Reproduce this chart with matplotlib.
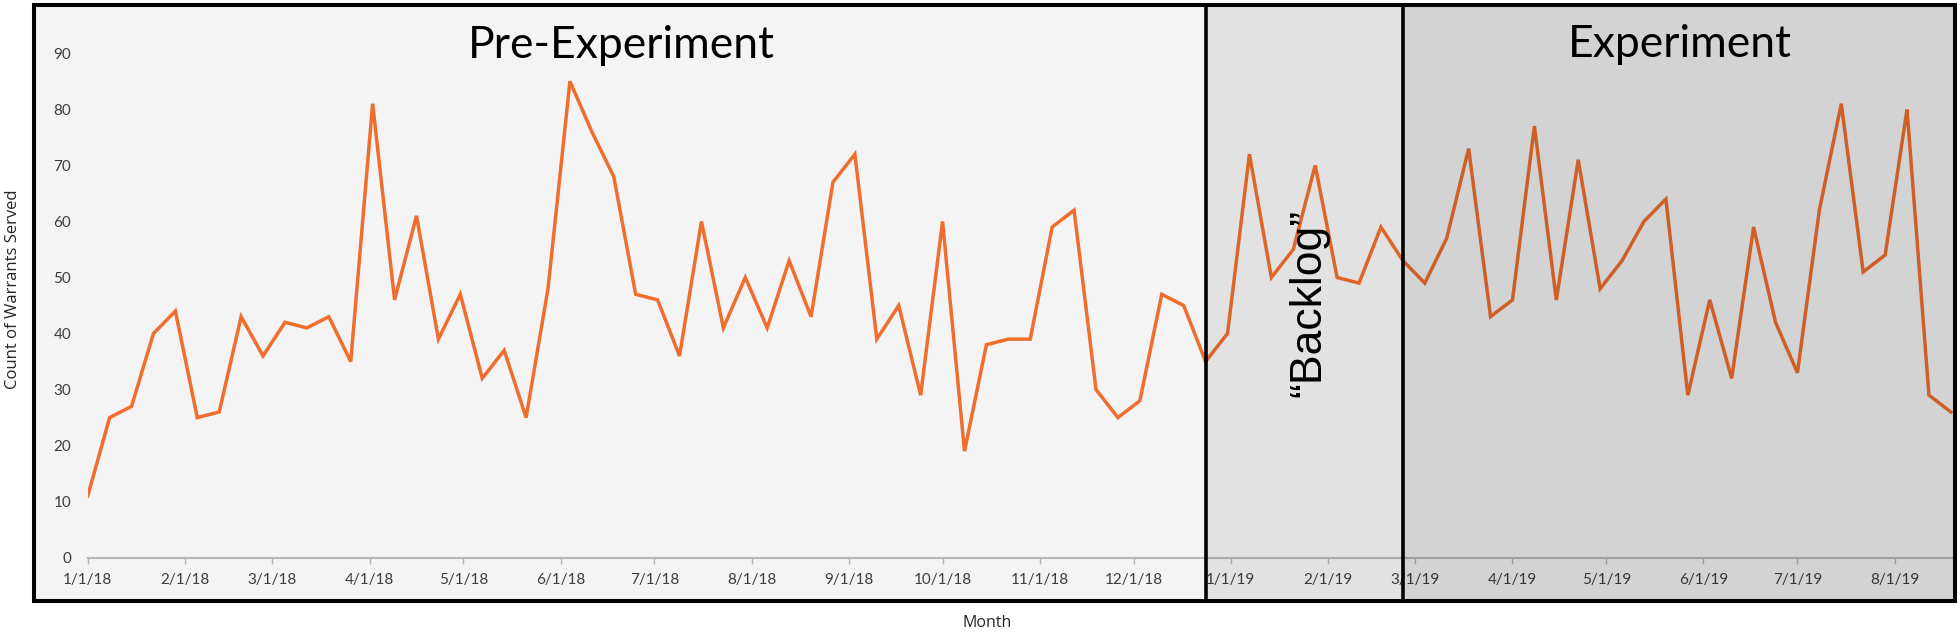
import pandas as pd
import numpy as np
import matplotlib
matplotlib.use('Agg')
import matplotlib.pyplot as plt
import matplotlib.dates as mdates
import matplotlib.transforms as mtransforms
from matplotlib.patches import Rectangle
from matplotlib.lines import Line2D

# weekly counts, first week = 1/1/18
start_date = '2018-01-01'
warrants = [11, 25, 27, 40, 44, 25, 26, 43, 36, 42, 41, 43, 35, 81, 46,
            61, 39, 47, 32, 37, 25, 48, 85, 76, 68, 47, 46, 36, 60,
            41, 50, 41, 53, 43, 67, 72, 39, 45, 29, 60, 19, 38, 39,
            39, 59, 62, 30, 25, 28, 47, 45, 35, 40, 72, 50, 55, 70,
            50, 49, 59, 53, 49, 57, 73, 43, 46, 77, 46, 71, 48, 53,
            60, 64, 29, 46, 32, 59, 42, 33, 62, 81, 51, 54, 80, 29, 26]

# phases
phase_names = ['Pre-Experiment', '\u201cBacklog\u201d', 'Experiment']
phase_starts = ['2018-01-01', '2018-12-24', '2019-02-25']
x_end = '2019-08-20'

y_ticks = [0, 10, 20, 30, 40, 50, 60, 70, 80, 90]

W, H = 1960, 636
fig = plt.figure(figsize=(W / 100, H / 100), dpi=100)
fig.patch.set_facecolor('white')

# frame in pixels
fx0, fx1, fy0, fy1 = 34, 1955, 5, 601

dates = pd.date_range(start_date, periods=len(warrants), freq='7D')
starts = pd.to_datetime(phase_starts)

ax = fig.add_axes([87.7 / W, 1 - 557.7 / H, (1954 - 87.7) / W, (557.7 - 53.3) / H])
ax.set_facecolor('none')
ax.plot(dates, warrants, color='#FA7430', lw=2.5, solid_joinstyle='miter')

ax.set_xlim(pd.Timestamp(start_date), pd.Timestamp(x_end))
ax.set_ylim(0, 90)
ax.set_yticks(y_ticks)

ax.xaxis.set_major_locator(mdates.MonthLocator())
ax.xaxis.set_major_formatter(
    plt.FuncFormatter(lambda v, p: '{0.month}/{0.day}/{0:%y}'.format(mdates.num2date(v))))

for s in ['left', 'top', 'right']:
    ax.spines[s].set_visible(False)
ax.spines['bottom'].set_color('#BFBFBF')
ax.spines['bottom'].set_linewidth(1.5)
ax.tick_params(axis='x', length=4.3, width=1, color='#BFBFBF', pad=7,
               labelsize=11, labelcolor='#404040')
ax.tick_params(axis='y', length=0, pad=12, labelsize=11, labelcolor='#404040')
for lab in ax.get_xticklabels() + ax.get_yticklabels():
    lab.set_family('Lato')

# shaded overlays (black with alpha) for each phase
blend = mtransforms.blended_transform_factory(ax.transData, fig.transFigure)
fb, ft = 1 - fy1 / H, 1 - fy0 / H
pre = Rectangle((fx0 / W, fb), (fx1 - fx0) / W, ft - fb, transform=fig.transFigure,
                facecolor='black', alpha=0.043, lw=0, zorder=2)
fig.add_artist(pre)
edges = list(mdates.date2num(starts[1:])) + [mdates.date2num(pd.Timestamp(x_end))]
extra = [0.07, 0.135]
for i in range(2):
    r = Rectangle((edges[i], fb), edges[i + 1] - edges[i], ft - fb, transform=blend,
                  facecolor='black', alpha=extra[i], lw=0, zorder=2)
    fig.add_artist(r)
    ln = Line2D([edges[i], edges[i]], [fb, ft], transform=blend, color='black',
                lw=2.6, zorder=4)
    fig.add_artist(ln)

frame = Rectangle((fx0 / W, fb), (fx1 - fx0) / W, ft - fb, transform=fig.transFigure,
                  fill=False, ec='black', lw=2.9, zorder=5)
fig.add_artist(frame)

# phase titles
fig.text(621 / W, 1 - 58 / H, phase_names[0], ha='center', va='baseline',
         fontsize=32, family='Lato', color='black', zorder=6)
fig.text(1680 / W, 1 - 57 / H, phase_names[2], ha='center', va='baseline',
         fontsize=32, family='Lato', color='black', zorder=6)
fig.text(1309 / W, 1 - 303 / H, phase_names[1], ha='center', va='center',
         rotation=90, fontsize=32, family='Liberation Sans', color='black', zorder=6)

# axis titles
fig.text(13 / W, 1 - 289 / H, 'Count of Warrants Served', rotation=90,
         ha='center', va='center', fontsize=12, family='Open Sans', color='#262626')
fig.text(987 / W, 1 - 623 / H, 'Month', ha='center', va='center',
         fontsize=11.5, family='Open Sans', color='#262626')

fig.savefig('out.png', dpi=100)
